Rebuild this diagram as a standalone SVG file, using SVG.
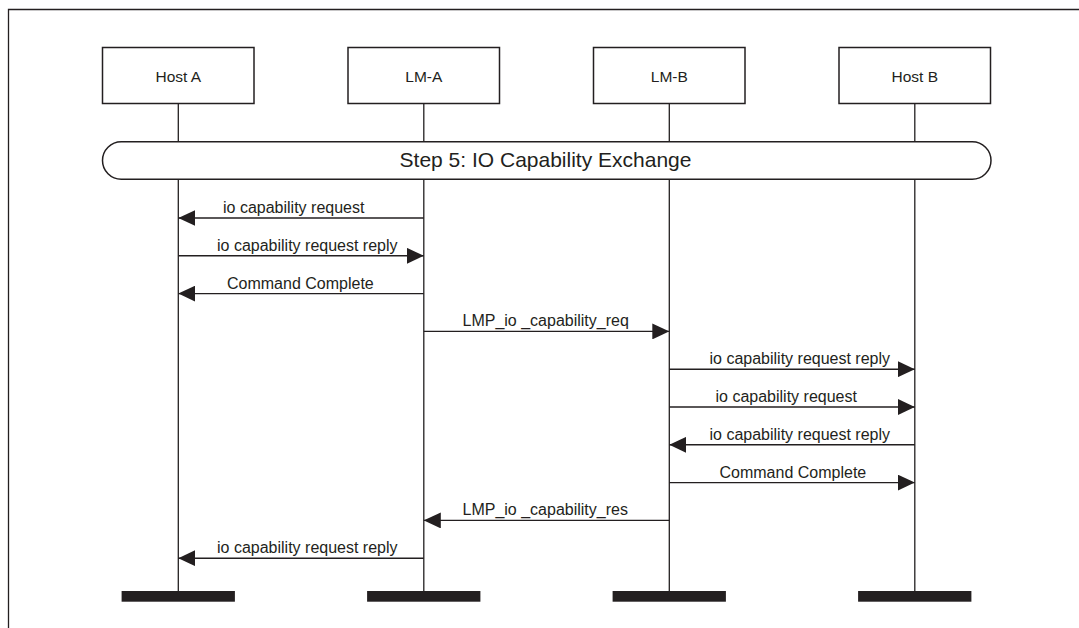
<svg xmlns="http://www.w3.org/2000/svg" width="1079" height="628" viewBox="0 0 1079 628">
<style>
.frame{fill:none;stroke:#231f20;stroke-width:1.3}
.box{fill:#fff;stroke:#231f20;stroke-width:1.5}
.life{stroke:#231f20;stroke-width:1.3;fill:none}
.bar{fill:#231f20}
.msg{stroke:#231f20;stroke-width:1.4;fill:none;marker-end:url(#ah)}
.nl{font-family:"Liberation Sans",Arial,sans-serif;font-size:15.5px;fill:#231f20;text-anchor:middle}
.ml{font-family:"Liberation Sans",Arial,sans-serif;font-size:16px;fill:#231f20}
.st{font-family:"Liberation Sans",Arial,sans-serif;font-size:21px;fill:#231f20;text-anchor:middle}
</style>
<defs>
<marker id="ah" viewBox="0 0 17 16" refX="17" refY="8" markerWidth="17" markerHeight="16" markerUnits="userSpaceOnUse" orient="auto">
<path d="M0,0 L17,8 L0,16 z" fill="#231f20"/>
</marker>
</defs>
<rect width="1079" height="628" fill="#fff"/>
<path class="frame" d="M8.5,628 V9.5 H1079"/>
<g id="lifelines">
<line class="life" x1="178.3" y1="103" x2="178.3" y2="591"/>
<line class="life" x1="423.8" y1="103" x2="423.8" y2="591"/>
<line class="life" x1="669.3" y1="103" x2="669.3" y2="591"/>
<line class="life" x1="914.8" y1="103" x2="914.8" y2="591"/>
</g>
<g id="host-a"><rect class="box" x="102.5" y="47.5" width="151.5" height="56"/><text class="nl" x="178.3" y="81.7">Host A</text><rect class="bar" x="121.6" y="591" width="113.3" height="10.7"/></g>
<g id="lm-a"><rect class="box" x="348" y="47.5" width="151.5" height="56"/><text class="nl" x="423.8" y="81.7">LM-A</text><rect class="bar" x="367.1" y="591" width="113.3" height="10.7"/></g>
<g id="lm-b"><rect class="box" x="593.5" y="47.5" width="151.5" height="56"/><text class="nl" x="669.3" y="81.7">LM-B</text><rect class="bar" x="612.6" y="591" width="113.3" height="10.7"/></g>
<g id="host-b"><rect class="box" x="839" y="47.5" width="151.5" height="56"/><text class="nl" x="914.8" y="81.7">Host B</text><rect class="bar" x="858.1" y="591" width="113.3" height="10.7"/></g>
<g id="step5">
<rect class="box" x="102.5" y="141.7" width="888.5" height="37.6" rx="18.8" ry="18.8"/>
<text class="st" x="545.5" y="167.3">Step 5: IO Capability Exchange</text>
</g>
<g id="connectors">
<line class="msg" x1="423.8" y1="218" x2="178.3" y2="218"/>
<line class="msg" x1="178.3" y1="255.8" x2="423.8" y2="255.8"/>
<line class="msg" x1="423.8" y1="293.6" x2="178.3" y2="293.6"/>
<line class="msg" x1="423.8" y1="331.4" x2="669.3" y2="331.4"/>
<line class="msg" x1="669.3" y1="369.2" x2="914.8" y2="369.2"/>
<line class="msg" x1="669.3" y1="407" x2="914.8" y2="407"/>
<line class="msg" x1="914.8" y1="444.8" x2="669.3" y2="444.8"/>
<line class="msg" x1="669.3" y1="482.6" x2="914.8" y2="482.6"/>
<line class="msg" x1="669.3" y1="520.4" x2="423.8" y2="520.4"/>
<line class="msg" x1="423.8" y1="558.2" x2="178.3" y2="558.2"/>
<text class="ml" x="223" y="213">io capability request</text>
<text class="ml" x="217" y="250.8">io capability request reply</text>
<text class="ml" x="227" y="288.6">Command Complete</text>
<text class="ml" x="462.5" y="326.4">LMP_io _capability_req</text>
<text class="ml" x="709.5" y="364.2">io capability request reply</text>
<text class="ml" x="715.5" y="402">io capability request</text>
<text class="ml" x="709.5" y="439.8">io capability request reply</text>
<text class="ml" x="719.5" y="477.6">Command Complete</text>
<text class="ml" x="462.5" y="515.4">LMP_io _capability_res</text>
<text class="ml" x="217" y="553.2">io capability request reply</text>
</g>
</svg>
